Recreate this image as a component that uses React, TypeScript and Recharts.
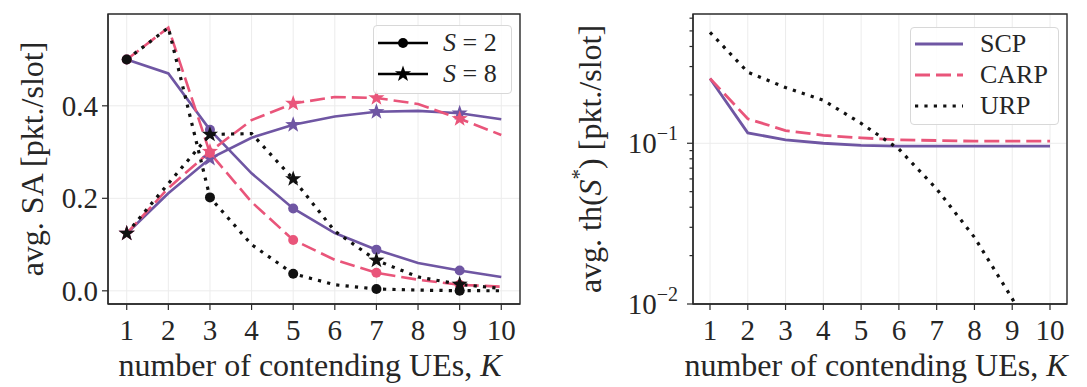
import React from 'react';
import {
  LineChart,
  Line,
  XAxis,
  YAxis,
  CartesianGrid,
  ReferenceArea,
  Legend,
  Label,
} from 'recharts';

// ---------- data ----------
const K_VALUES = [1, 2, 3, 4, 5, 6, 7, 8, 9, 10];

// average slot access (SA) for S = 2 and S = 8
const scpS2 = [0.5, 0.47, 0.348, 0.254, 0.178, 0.125, 0.089, 0.06, 0.044, 0.03];
const carpS2 = [0.5, 0.569, 0.298, 0.192, 0.11, 0.067, 0.039, 0.024, 0.013, 0.009];
const urpS2 = [0.5, 0.569, 0.202, 0.1, 0.037, 0.013, 0.004, 0.0015, 0.0003, 0.0001];
const scpS8 = [0.124, 0.211, 0.286, 0.331, 0.359, 0.377, 0.387, 0.389, 0.384, 0.371];
const carpS8 = [0.124, 0.222, 0.301, 0.369, 0.405, 0.419, 0.417, 0.404, 0.372, 0.337];
const urpS8 = [0.124, 0.232, 0.338, 0.34, 0.242, 0.129, 0.066, 0.03, 0.014, 0.005];

// average throughput of the best slot, th(S*)
const scpTh = [0.253, 0.116, 0.105, 0.1, 0.097, 0.096, 0.096, 0.096, 0.096, 0.096];
const carpTh = [0.253, 0.142, 0.12, 0.112, 0.108, 0.105, 0.104, 0.103, 0.103, 0.103];
const urpTh = [0.49, 0.277, 0.222, 0.185, 0.133, 0.092, 0.052, 0.026, 0.0108, 0.004];

const SA_TICKS = [0, 0.2, 0.4];
const TH_TICKS = [
  0.01, 0.02, 0.03, 0.04, 0.05, 0.06, 0.07, 0.08, 0.09,
  0.1, 0.2, 0.3, 0.4, 0.5, 0.6,
];
const TH_DECADES = [0.01, 0.1];

const K_DOMAIN: [number, number] = [0.55, 10.45];
const SA_DOMAIN: [number, number] = [-0.0285, 0.5985];
const TH_DOMAIN: [number, number] = [0.01, 0.637];

const saRows = K_VALUES.map((k, i) => ({
  K: k,
  scpS2: scpS2[i],
  carpS2: carpS2[i],
  urpS2: urpS2[i],
  scpS8: scpS8[i],
  carpS8: carpS8[i],
  urpS8: urpS8[i],
}));

const thRows = K_VALUES.map((k, i) => ({
  K: k,
  scp: scpTh[i],
  carp: carpTh[i],
  urp: urpTh[i],
}));

// ---------- styles ----------
const FONT = '"Liberation Serif", "Times New Roman", serif';
const INK = '#262626';
const FRAME = '#2b2b2b';
const GRID = '#ececec';
const SCP_COLOR = '#6f56a3';
const CARP_COLOR = '#e9557a';
const URP_COLOR = '#111111';

const SOLID = undefined;
const DASHED = '15 6';
const DOTTED = '3.2 6.2';

const TICK_FONT = 29;
const LABEL_FONT = 32;
const LEGEND_FONT = 26;

// ---------- markers ----------
function starPath(cx: number, cy: number, R: number) {
  const r = R * 0.4;
  let d = '';
  for (let i = 0; i < 10; i++) {
    const a = -Math.PI / 2 + (i * Math.PI) / 5;
    const rr = i % 2 === 0 ? R : r;
    d += (i === 0 ? 'M' : 'L') + (cx + rr * Math.cos(a)).toFixed(2) + ',' + (cy + rr * Math.sin(a)).toFixed(2);
  }
  return d + 'Z';
}

const makeDot = (shape: 'circle' | 'star', color: string) => (props: any) => {
  const { cx, cy, payload, index } = props;
  const key = `m-${shape}-${color}-${index}`;
  if (cx == null || cy == null || payload.K % 2 === 0) return <g key={key} />;
  if (shape === 'circle') return <circle key={key} cx={cx} cy={cy} r={5} fill={color} />;
  return <path key={key} d={starPath(cx, cy, 8.5)} fill={color} />;
};

// ---------- ticks ----------
const KTick = (p: any) => (
  <text x={p.x} y={p.y + 28} textAnchor="middle" fontFamily={FONT} fontSize={TICK_FONT} fill={INK}>
    {p.payload.value}
  </text>
);

const SaTick = (p: any) => (
  <text x={p.x - 2} y={p.y + 10} textAnchor="end" fontFamily={FONT} fontSize={TICK_FONT} fill={INK}>
    {Number(p.payload.value).toFixed(1)}
  </text>
);

const ThTick = (p: any) => {
  const v = Number(p.payload.value);
  const major = TH_DECADES.some((d) => Math.abs(d - v) < 1e-9);
  const len = major ? 6 : 3.5;
  const exp = Math.round(Math.log10(v));
  return (
    <g>
      <line x1={p.x - len} x2={p.x} y1={p.y} y2={p.y} stroke={FRAME} strokeWidth={1.2} />
      {major && (
        <text x={p.x - 15} y={p.y + 10} textAnchor="end" fontFamily={FONT} fontSize={TICK_FONT} fill={INK}>
          10
          <tspan dy={-13} fontSize={20}>{'\u2212' + Math.abs(exp)}</tspan>
        </text>
      )}
    </g>
  );
};

// ---------- axis titles ----------
const kTitle = (p: any) => {
  const vb = p.viewBox || { x: 0, y: 0, width: 0, height: 0 };
  return (
    <text x={vb.x + vb.width / 2 - 4} y={vb.y + 72} textAnchor="middle" fontFamily={FONT} fontSize={LABEL_FONT} fill={INK}>
      number of contending UEs, <tspan fontStyle="italic">K</tspan>
    </text>
  );
};

const yTitle = (content: React.ReactNode, fromRight: number) => (p: any) => {
  const vb = p.viewBox || { x: 0, y: 0, width: 0, height: 0 };
  const cx = vb.x + vb.width - fromRight;
  const cy = vb.y + vb.height / 2;
  return (
    <text
      x={cx}
      y={cy}
      transform={`rotate(-90, ${cx}, ${cy})`}
      textAnchor="middle"
      dominantBaseline="central"
      fontFamily={FONT}
      fontSize={LABEL_FONT}
      fill={INK}
    >
      {content}
    </text>
  );
};

// ---------- legends ----------
const legendBox: React.CSSProperties = {
  border: '1px solid #d8d8d8',
  borderRadius: 4,
  background: 'rgba(255,255,255,0.85)',
  fontFamily: FONT,
  fontSize: LEGEND_FONT,
  color: INK,
  boxSizing: 'border-box',
  lineHeight: 1,
};

const rowStyle: React.CSSProperties = { display: 'flex', alignItems: 'center', height: 31 };

const SaLegend = () => (
  <div style={{ ...legendBox, padding: '1px 4px 4px 4px', width: 139 }}>
    {[
      { shape: 'circle' as const, s: '2' },
      { shape: 'star' as const, s: '8' },
    ].map((e) => (
      <div key={e.s} style={rowStyle}>
        <svg width={50} height={24} style={{ display: 'block' }}>
          <line x1={0} x2={50} y1={12} y2={12} stroke="#000" strokeWidth={2.6} />
          {e.shape === 'circle' ? <circle cx={25} cy={12} r={5} fill="#000" /> : <path d={starPath(25, 12, 8.5)} fill="#000" />}
        </svg>
        <span style={{ marginLeft: 15, whiteSpace: 'nowrap' }}>
          <i>S</i> = {e.s}
        </span>
      </div>
    ))}
  </div>
);

const ThLegend = () => (
  <div style={{ ...legendBox, padding: '0px 4px 3px 4px', width: 149 }}>
    {[
      { name: 'SCP', color: SCP_COLOR, dash: SOLID, w: 3 },
      { name: 'CARP', color: CARP_COLOR, dash: DASHED, w: 3 },
      { name: 'URP', color: URP_COLOR, dash: DOTTED, w: 3.2 },
    ].map((e) => (
      <div key={e.name} style={rowStyle}>
        <svg width={48} height={24} style={{ display: 'block' }}>
          <line x1={0} x2={48} y1={12} y2={12} stroke={e.color} strokeWidth={e.w} strokeDasharray={e.dash} />
        </svg>
        <span style={{ marginLeft: 17 }}>{e.name}</span>
      </div>
    ))}
  </div>
);

const axisLine = { stroke: FRAME, strokeWidth: 1.3 };
const tickLine = { stroke: FRAME, strokeWidth: 1.2 };

function SaChart() {
  return (
    <LineChart width={540} height={387} data={saRows} margin={{ top: 14, right: 20, bottom: 23, left: 0 }}>
      <CartesianGrid stroke={GRID} strokeWidth={1} />
      <XAxis
        dataKey="K"
        type="number"
        domain={K_DOMAIN}
        ticks={K_VALUES}
        interval={0}
        allowDataOverflow
        height={60}
        tickSize={6}
        axisLine={axisLine}
        tickLine={tickLine}
        tick={KTick}
      >
        <Label content={kTitle} />
      </XAxis>
      <YAxis
        type="number"
        domain={SA_DOMAIN}
        ticks={SA_TICKS}
        interval={0}
        allowDataOverflow
        width={108}
        tickSize={6}
        axisLine={axisLine}
        tickLine={tickLine}
        tick={SaTick}
      >
        <Label content={yTitle('avg. SA [pkt./slot]', 76)} />
      </YAxis>
      <Line dataKey="scpS2" stroke={SCP_COLOR} strokeWidth={2.6} dot={makeDot('circle', SCP_COLOR)} activeDot={false} isAnimationActive={false} />
      <Line dataKey="scpS8" stroke={SCP_COLOR} strokeWidth={2.6} dot={makeDot('star', SCP_COLOR)} activeDot={false} isAnimationActive={false} />
      <Line dataKey="carpS2" stroke={CARP_COLOR} strokeWidth={2.6} strokeDasharray={DASHED} dot={makeDot('circle', CARP_COLOR)} activeDot={false} isAnimationActive={false} />
      <Line dataKey="carpS8" stroke={CARP_COLOR} strokeWidth={2.6} strokeDasharray={DASHED} dot={makeDot('star', CARP_COLOR)} activeDot={false} isAnimationActive={false} />
      <Line dataKey="urpS2" stroke={URP_COLOR} strokeWidth={3.2} strokeDasharray={DOTTED} dot={makeDot('circle', URP_COLOR)} activeDot={false} isAnimationActive={false} />
      <Line dataKey="urpS8" stroke={URP_COLOR} strokeWidth={3.2} strokeDasharray={DOTTED} dot={makeDot('star', URP_COLOR)} activeDot={false} isAnimationActive={false} />
      <ReferenceArea x1={K_DOMAIN[0]} x2={K_DOMAIN[1]} y1={SA_DOMAIN[0]} y2={SA_DOMAIN[1]} fill="none" stroke={FRAME} strokeWidth={1.4} ifOverflow="visible" />
      <Legend
        layout="vertical"
        align="center"
        verticalAlign="middle"
        content={SaLegend}
        wrapperStyle={{ left: 373, top: 25, width: 139 }}
      />
    </LineChart>
  );
}

function ThChart() {
  return (
    <LineChart width={547} height={387} data={thRows} margin={{ top: 14, right: 20, bottom: 23, left: 0 }}>
      <CartesianGrid stroke={GRID} strokeWidth={1} horizontalValues={TH_DECADES} />
      <XAxis
        dataKey="K"
        type="number"
        domain={K_DOMAIN}
        ticks={K_VALUES}
        interval={0}
        allowDataOverflow
        height={60}
        tickSize={6}
        axisLine={axisLine}
        tickLine={tickLine}
        tick={KTick}
      >
        <Label content={kTitle} />
      </XAxis>
      <YAxis
        type="number"
        scale="log"
        domain={TH_DOMAIN}
        ticks={TH_TICKS}
        interval={0}
        allowDataOverflow
        width={153}
        tickSize={0}
        tickMargin={0}
        axisLine={axisLine}
        tickLine={false}
        tick={ThTick}
      >
        <Label
          content={yTitle(
            <>
              avg. th(<tspan fontStyle="italic">S</tspan>
              <tspan dy={-11} fontSize={21}>*</tspan>
              <tspan dy={11}>) [pkt./slot]</tspan>
            </>,
            103,
          )}
        />
      </YAxis>
      <Line dataKey="scp" stroke={SCP_COLOR} strokeWidth={2.8} dot={false} activeDot={false} isAnimationActive={false} />
      <Line dataKey="carp" stroke={CARP_COLOR} strokeWidth={2.8} strokeDasharray={DASHED} dot={false} activeDot={false} isAnimationActive={false} />
      <Line dataKey="urp" stroke={URP_COLOR} strokeWidth={3.2} strokeDasharray={DOTTED} dot={false} activeDot={false} isAnimationActive={false} />
      <ReferenceArea x1={K_DOMAIN[0]} x2={K_DOMAIN[1]} y1={TH_DOMAIN[0]} y2={TH_DOMAIN[1]} fill="none" stroke={FRAME} strokeWidth={1.4} ifOverflow="visible" />
      <Legend
        layout="vertical"
        align="center"
        verticalAlign="middle"
        content={ThLegend}
        wrapperStyle={{ left: 370, top: 27, width: 149 }}
      />
    </LineChart>
  );
}

export default function App() {
  return (
    <div style={{ position: 'absolute', left: 0, top: 0, width: 1087, height: 387, background: '#fff' }}>
      <div style={{ position: 'absolute', left: 0, top: 0 }}>
        <SaChart />
      </div>
      <div style={{ position: 'absolute', left: 540, top: 0 }}>
        <ThChart />
      </div>
    </div>
  );
}
